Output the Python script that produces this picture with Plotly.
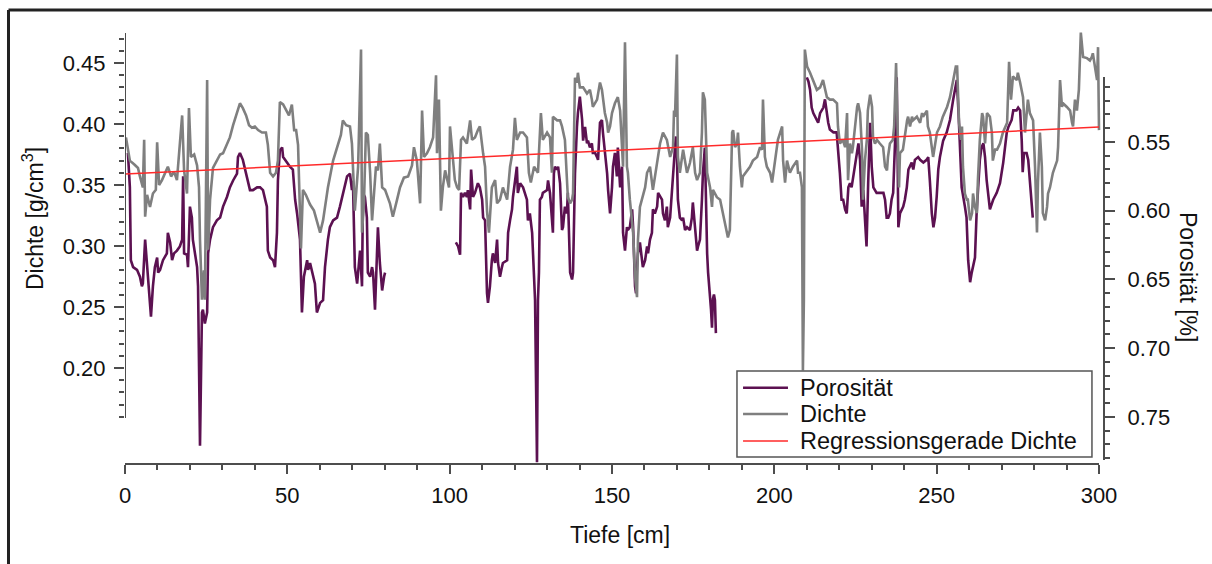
import plotly.graph_objects as go

# ---------------- data ----------------
# Dichte (density, g/cm^3) vs Tiefe (depth, cm)
DICHTE_X = [0.3, 0.9, 1.5, 2.8, 4.0, 4.6, 5.5, 5.9, 6.2, 6.8, 7.7, 8.6, 9.5, 9.9, 10.5, 11.4, 12.3, 13.2, 14.2, 15.1,
            16.0, 17.6, 18.2, 19.1, 19.7, 20.3, 21.3, 22.2, 22.8, 23.1, 23.7, 24.3, 24.6, 25.3, 25.6, 26.2, 27.1, 28.3, 29.3, 30.2,
            31.4, 32.3, 33.3, 34.2, 35.4, 36.3, 37.3, 38.2, 39.1, 40.0, 41.0, 42.2, 43.4, 44.0, 44.7, 45.6, 46.5, 47.1, 47.7, 48.7,
            49.6, 50.5, 51.4, 52.1, 52.7, 53.3, 54.2, 54.8, 55.7, 57.0, 58.2, 59.1, 60.1, 61.0, 62.5, 64.1, 65.3, 66.5, 67.1, 68.1,
            69.3, 69.9, 70.8, 71.8, 72.7, 73.0, 73.6, 74.2, 74.8, 75.5, 76.1, 76.7, 77.3, 77.9, 78.5, 79.2, 80.1, 81.6, 82.5, 83.8,
            84.7, 85.9, 87.2, 88.4, 89.0, 89.9, 90.9, 91.5, 92.1, 93.0, 93.9, 94.9, 95.8, 96.1, 96.7, 97.3, 97.9, 98.6, 99.2, 99.8,
            100.1, 101.0, 101.6, 102.3, 102.9, 103.5, 104.1, 105.3, 106.3, 106.9, 107.8, 108.7, 109.3, 110.3, 110.9, 111.5, 112.1, 113.0, 114.0, 114.6,
            115.5, 116.4, 117.7, 118.6, 119.5, 120.1, 120.7, 121.7, 122.6, 123.8, 124.4, 125.0, 126.0, 127.2, 128.1, 128.7, 130.0, 130.9, 131.5, 131.8,
            133.1, 134.0, 134.6, 135.5, 136.1, 136.4, 137.1, 137.7, 138.0, 138.6, 139.2, 139.5, 140.1, 141.1, 142.3, 143.2, 143.8, 144.1, 145.4, 146.3,
            146.9, 147.2, 147.8, 148.5, 148.8, 149.4, 150.0, 150.9, 151.8, 152.5, 153.1, 153.4, 154.0, 154.6, 154.9, 155.5, 156.5, 157.1, 157.7, 158.0,
            158.6, 159.2, 160.2, 160.8, 161.7, 162.6, 163.9, 164.8, 165.7, 166.9, 167.9, 168.8, 169.1, 169.4, 170.0, 170.3, 170.9, 171.9, 173.1, 174.0,
            174.9, 175.6, 176.2, 177.1, 177.7, 178.0, 178.6, 179.3, 180.2, 180.8, 181.1, 182.3, 183.3, 184.2, 185.4, 185.7, 186.3, 187.0, 187.3, 187.9,
            188.5, 188.8, 189.4, 190.0, 190.3, 191.6, 192.5, 193.4, 194.7, 195.6, 196.2, 196.5, 197.1, 197.7, 198.7, 199.3, 200.8, 201.1, 202.4, 202.7,
            203.3, 203.9, 204.8, 205.7, 207.0, 207.3, 207.9, 208.5, 208.8, 209.1, 209.4, 210.1, 211.0, 211.9, 213.1, 214.1, 215.0, 216.2, 217.1, 218.1,
            219.3, 219.6, 220.2, 221.1, 221.8, 222.4, 222.7, 223.3, 223.9, 224.2, 224.8, 225.5, 225.8, 226.4, 227.0, 227.3, 227.9, 228.5, 228.8, 229.5,
            230.1, 230.4, 231.0, 231.6, 232.5, 233.5, 234.1, 234.7, 235.0, 235.6, 236.5, 236.9, 237.5, 237.8, 238.4, 238.7, 239.6, 240.9, 241.2, 241.8,
            242.4, 242.7, 243.9, 244.9, 245.5, 245.8, 246.4, 247.0, 247.3, 247.9, 248.6, 248.9, 250.1, 251.0, 251.9, 253.2, 254.1, 255.0, 255.9, 256.3,
            256.6, 256.9, 257.5, 257.8, 258.1, 258.7, 259.3, 259.6, 260.3, 260.9, 261.2, 261.8, 262.4, 262.7, 263.3, 264.0, 264.3, 264.9, 265.5, 266.4,
            267.0, 267.3, 268.0, 268.6, 269.5, 270.4, 271.7, 272.0, 272.3, 272.9, 273.5, 274.7, 275.0, 275.7, 276.3, 276.6, 277.2, 277.8, 278.1, 278.7,
            279.7, 280.3, 280.9, 281.2, 281.8, 282.4, 282.7, 283.4, 284.0, 284.3, 284.9, 285.8, 287.1, 287.4, 288.0, 288.6, 288.9, 290.1, 291.1, 291.7,
            292.0, 292.6, 293.2, 293.8, 294.4, 295.1, 296.3, 297.2, 297.8, 298.1, 298.8, 299.4, 299.7, 300.0]
DICHTE_Y = [0.389, 0.379, 0.370, 0.367, 0.364, 0.357, 0.348, 0.387, 0.324, 0.342, 0.332, 0.343, 0.346, 0.385, 0.350, 0.354, 0.360, 0.365, 0.357, 0.361,
            0.354, 0.407, 0.362, 0.343, 0.413, 0.373, 0.375, 0.366, 0.348, 0.305, 0.256, 0.280, 0.256, 0.436, 0.297, 0.338, 0.364, 0.370, 0.375, 0.376,
            0.383, 0.389, 0.399, 0.407, 0.417, 0.413, 0.407, 0.399, 0.397, 0.398, 0.395, 0.393, 0.393, 0.383, 0.360, 0.357, 0.360, 0.370, 0.418, 0.416,
            0.411, 0.407, 0.416, 0.395, 0.395, 0.383, 0.298, 0.346, 0.342, 0.334, 0.329, 0.321, 0.311, 0.321, 0.348, 0.370, 0.381, 0.391, 0.403, 0.399,
            0.398, 0.384, 0.329, 0.365, 0.461, 0.311, 0.335, 0.393, 0.391, 0.360, 0.321, 0.343, 0.365, 0.362, 0.384, 0.348, 0.346, 0.335, 0.324, 0.338,
            0.348, 0.356, 0.357, 0.366, 0.381, 0.370, 0.335, 0.411, 0.373, 0.376, 0.381, 0.389, 0.440, 0.376, 0.420, 0.329, 0.348, 0.362, 0.354, 0.348,
            0.398, 0.370, 0.354, 0.348, 0.346, 0.387, 0.389, 0.384, 0.403, 0.387, 0.389, 0.395, 0.398, 0.376, 0.365, 0.329, 0.311, 0.348, 0.354, 0.335,
            0.338, 0.348, 0.338, 0.365, 0.379, 0.405, 0.387, 0.393, 0.393, 0.389, 0.360, 0.352, 0.365, 0.360, 0.409, 0.387, 0.393, 0.389, 0.360, 0.406,
            0.403, 0.403, 0.398, 0.387, 0.360, 0.340, 0.335, 0.338, 0.343, 0.438, 0.434, 0.442, 0.430, 0.430, 0.425, 0.428, 0.420, 0.414, 0.420, 0.434,
            0.428, 0.422, 0.409, 0.401, 0.393, 0.398, 0.409, 0.417, 0.422, 0.411, 0.381, 0.365, 0.467, 0.365, 0.360, 0.338, 0.311, 0.275, 0.258, 0.305,
            0.332, 0.338, 0.348, 0.360, 0.365, 0.346, 0.368, 0.384, 0.393, 0.387, 0.373, 0.381, 0.411, 0.406, 0.457, 0.373, 0.360, 0.379, 0.360, 0.368,
            0.381, 0.360, 0.354, 0.360, 0.393, 0.426, 0.420, 0.360, 0.348, 0.332, 0.346, 0.340, 0.338, 0.327, 0.313, 0.307, 0.313, 0.393, 0.395, 0.381,
            0.384, 0.393, 0.365, 0.348, 0.357, 0.362, 0.365, 0.370, 0.373, 0.381, 0.379, 0.420, 0.373, 0.365, 0.360, 0.352, 0.381, 0.387, 0.398, 0.370,
            0.352, 0.370, 0.360, 0.365, 0.370, 0.360, 0.360, 0.348, 0.198, 0.256, 0.461, 0.447, 0.442, 0.436, 0.428, 0.430, 0.436, 0.422, 0.420, 0.420,
            0.417, 0.398, 0.384, 0.387, 0.381, 0.409, 0.354, 0.384, 0.376, 0.381, 0.398, 0.414, 0.417, 0.409, 0.379, 0.338, 0.370, 0.387, 0.411, 0.424,
            0.414, 0.389, 0.384, 0.387, 0.384, 0.381, 0.365, 0.362, 0.373, 0.384, 0.387, 0.398, 0.450, 0.409, 0.348, 0.376, 0.379, 0.403, 0.406, 0.398,
            0.406, 0.403, 0.406, 0.401, 0.409, 0.406, 0.409, 0.411, 0.398, 0.393, 0.379, 0.373, 0.393, 0.398, 0.406, 0.414, 0.422, 0.434, 0.447, 0.447,
            0.428, 0.401, 0.387, 0.398, 0.365, 0.343, 0.338, 0.338, 0.321, 0.327, 0.343, 0.332, 0.327, 0.354, 0.387, 0.409, 0.406, 0.384, 0.409, 0.406,
            0.393, 0.370, 0.379, 0.379, 0.384, 0.393, 0.401, 0.420, 0.451, 0.420, 0.439, 0.436, 0.442, 0.434, 0.425, 0.422, 0.393, 0.414, 0.420, 0.409,
            0.403, 0.365, 0.311, 0.352, 0.393, 0.365, 0.327, 0.321, 0.332, 0.343, 0.348, 0.360, 0.370, 0.381, 0.436, 0.414, 0.417, 0.414, 0.411, 0.401,
            0.398, 0.420, 0.411, 0.428, 0.475, 0.455, 0.454, 0.452, 0.455, 0.458, 0.447, 0.436, 0.463, 0.395]

# Porosität (porosity) vs Tiefe; None marks gaps in the record
POROSITAET_X = [0.9, 1.5, 1.8, 2.5, 3.7, 4.6, 5.2, 5.5, 6.2, 6.8, 7.4, 8.0, 8.6, 9.2, 9.9, 10.2, 10.8, 11.7, 12.9, 13.2,
                13.9, 14.5, 15.1, 16.0, 16.9, 17.6, 17.9, 18.2, 19.1, 19.4, 20.0, 20.6, 20.9, 21.6, 22.2, 22.5, 23.1, 23.7, 24.0, 24.6,
                25.3, 25.6, 26.2, 27.1, 28.3, 29.3, 30.2, 31.4, 32.3, 33.3, 34.5, 34.8, 35.4, 36.3, 37.6, 38.5, 39.4, 40.7, 41.6, 42.5,
                43.7, 44.0, 44.7, 45.6, 46.2, 46.8, 47.1, 47.7, 48.4, 48.7, 49.9, 50.8, 51.7, 52.4, 53.0, 53.9, 54.5, 55.1, 56.1, 56.4,
                57.0, 57.9, 58.5, 59.1, 60.1, 61.0, 61.6, 62.5, 63.1, 64.1, 65.3, 66.2, 67.1, 68.4, 69.3, 69.9, 70.2, 70.8, 71.5, 71.8,
                72.4, 73.0, 73.3, 73.9, 74.5, 74.8, 75.5, 76.1, 76.4, 77.0, 77.6, 77.9, 78.5, 79.2, 79.8, 80.1,
                None,
                101.9, 102.6, 103.2, 103.5, 104.1, 104.7, 105.3, 105.6, 106.3, 106.6, 107.2, 107.8, 108.7, 109.3, 110.0, 110.3, 110.9, 111.2, 111.5, 111.8,
                112.4, 113.0, 113.3, 114.0, 114.6, 114.9, 115.5, 116.1, 116.4, 117.7, 118.0, 118.6, 119.2, 119.5, 120.1, 120.7, 121.0, 121.7, 122.6, 123.8,
                124.1, 124.7, 125.4, 125.7, 126.3, 126.9, 127.2, 127.5, 127.8, 128.4, 128.7, 130.0, 130.3, 130.9, 131.5, 131.8, 132.1, 132.4, 133.1, 133.4,
                134.0, 134.6, 134.9, 135.5, 136.1, 136.4, 137.1, 137.7, 138.0, 138.6, 139.2, 139.5, 140.1, 140.8, 141.1, 141.7, 142.3, 142.6, 143.2, 143.8,
                144.1, 144.8, 145.4, 145.7, 146.3, 146.9, 147.2, 147.8, 148.5, 148.8, 149.4, 150.0, 150.3, 150.9, 151.5, 151.8, 152.5, 153.1, 153.4, 154.0,
                154.6, 154.9, 155.5, 156.2, 156.5, 157.1, 157.4, 157.7, 158.0, 158.6, 159.2, 159.5, 160.2, 160.8, 161.1, 161.7, 162.3, 162.6, 163.2, 163.9,
                164.2, 164.8, 165.4, 165.7, 166.3, 166.9, 167.2, 167.9, 168.5, 168.8, 169.4, 169.7, 170.0, 170.3, 170.9, 171.6, 171.9, 172.5, 173.1, 174.0,
                174.6, 174.9, 175.6, 176.2, 176.5, 177.1, 177.7, 178.0, 178.6, 178.9, 179.3, 179.6, 180.2, 180.5, 180.8, 181.1, 181.4, 181.7, 182.0,
                None,
                210.0, 210.5, 211.0, 211.5, 212.0, 213.0, 213.5, 214.1, 214.6, 215.1, 215.6, 216.1, 216.6, 217.1, 218.2, 219.2, 219.7, 220.2, 220.7, 221.2,
                221.8, 222.3, 222.8, 223.3, 223.8, 224.3, 224.8, 225.4, 225.9, 226.4, 226.9, 227.4, 227.9, 228.4, 228.9, 229.5, 230.0, 230.5, 231.5, 232.5,
                233.6, 234.1, 234.6, 235.1, 235.6, 236.1, 236.6, 237.2, 237.7, 238.2, 238.7, 239.7, 240.2, 240.8, 241.3, 242.3, 242.8, 243.3, 244.3, 244.9,
                245.9, 246.9, 247.4, 247.9, 248.5, 249.0, 249.5, 250.0, 250.5, 251.0, 252.0, 253.1, 254.1, 255.1, 256.2, 256.7, 257.2, 257.7, 258.7, 259.2,
                259.7, 260.3, 260.8, 261.3, 261.8, 262.3, 262.8, 263.3, 263.8, 264.4, 264.9, 265.4, 266.4, 267.4, 268.5, 269.5, 270.5, 271.6, 272.1, 273.1,
                273.6, 274.6, 275.1, 275.7, 276.2, 276.5, 276.9, 277.7, 278.2, 278.7, 279.3, 279.6]
POROSITAET_Y = [0.558, 0.583, 0.636, 0.641, 0.643, 0.648, 0.655, 0.653, 0.621, 0.641, 0.660, 0.677, 0.655, 0.641, 0.634, 0.645, 0.643, 0.636, 0.631, 0.616,
                0.623, 0.636, 0.631, 0.629, 0.626, 0.621, 0.575, 0.631, 0.632, 0.641, 0.597, 0.605, 0.621, 0.634, 0.641, 0.655, 0.771, 0.674, 0.672, 0.682,
                0.674, 0.631, 0.621, 0.612, 0.607, 0.605, 0.597, 0.590, 0.583, 0.578, 0.573, 0.561, 0.558, 0.563, 0.575, 0.585, 0.585, 0.583, 0.583, 0.585,
                0.597, 0.629, 0.634, 0.636, 0.641, 0.616, 0.578, 0.556, 0.554, 0.561, 0.565, 0.568, 0.570, 0.592, 0.602, 0.621, 0.674, 0.648, 0.636, 0.643,
                0.638, 0.648, 0.653, 0.674, 0.667, 0.665, 0.641, 0.621, 0.612, 0.607, 0.605, 0.597, 0.587, 0.575, 0.573, 0.585, 0.578, 0.641, 0.653, 0.643,
                0.629, 0.655, 0.587, 0.590, 0.605, 0.645, 0.648, 0.641, 0.645, 0.672, 0.638, 0.612, 0.638, 0.658, 0.648, 0.645,
                None,
                0.623, 0.626, 0.632, 0.587, 0.590, 0.587, 0.590, 0.585, 0.599, 0.570, 0.590, 0.587, 0.580, 0.583, 0.592, 0.605, 0.607, 0.641, 0.660, 0.667,
                0.655, 0.636, 0.631, 0.638, 0.621, 0.638, 0.648, 0.641, 0.638, 0.636, 0.616, 0.607, 0.599, 0.590, 0.580, 0.568, 0.587, 0.580, 0.583, 0.592,
                0.607, 0.602, 0.616, 0.636, 0.665, 0.783, 0.665, 0.645, 0.592, 0.590, 0.587, 0.585, 0.578, 0.587, 0.612, 0.616, 0.573, 0.568, 0.570, 0.568,
                0.580, 0.614, 0.612, 0.597, 0.602, 0.587, 0.645, 0.650, 0.645, 0.573, 0.539, 0.529, 0.517, 0.534, 0.549, 0.539, 0.551, 0.549, 0.554, 0.551,
                0.558, 0.558, 0.561, 0.563, 0.536, 0.534, 0.543, 0.556, 0.573, 0.585, 0.602, 0.583, 0.568, 0.558, 0.575, 0.554, 0.583, 0.568, 0.616, 0.629,
                0.612, 0.614, 0.612, 0.599, 0.612, 0.655, 0.660, 0.641, 0.631, 0.623, 0.636, 0.641, 0.636, 0.626, 0.631, 0.621, 0.616, 0.599, 0.602, 0.597,
                0.587, 0.590, 0.592, 0.602, 0.607, 0.597, 0.612, 0.605, 0.583, 0.568, 0.554, 0.546, 0.561, 0.592, 0.605, 0.607, 0.605, 0.614, 0.612, 0.614,
                0.605, 0.594, 0.616, 0.629, 0.626, 0.621, 0.592, 0.573, 0.554, 0.592, 0.631, 0.645, 0.660, 0.672, 0.685, 0.664, 0.661, 0.665, 0.689,
                None,
                0.503, 0.506, 0.512, 0.525, 0.529, 0.534, 0.536, 0.529, 0.527, 0.525, 0.519, 0.529, 0.536, 0.541, 0.543, 0.543, 0.556, 0.573, 0.592, 0.592,
                0.599, 0.602, 0.583, 0.580, 0.583, 0.575, 0.568, 0.558, 0.551, 0.563, 0.597, 0.585, 0.605, 0.626, 0.580, 0.536, 0.568, 0.583, 0.587, 0.587,
                0.587, 0.592, 0.605, 0.605, 0.602, 0.592, 0.587, 0.549, 0.503, 0.612, 0.602, 0.597, 0.592, 0.583, 0.570, 0.565, 0.570, 0.563, 0.561, 0.563,
                0.565, 0.563, 0.561, 0.578, 0.602, 0.612, 0.605, 0.590, 0.570, 0.561, 0.549, 0.543, 0.534, 0.519, 0.505, 0.527, 0.554, 0.583, 0.597, 0.605,
                0.636, 0.652, 0.645, 0.638, 0.634, 0.602, 0.583, 0.563, 0.554, 0.551, 0.561, 0.578, 0.599, 0.592, 0.587, 0.580, 0.565, 0.543, 0.539, 0.534,
                0.527, 0.527, 0.525, 0.527, 0.549, 0.572, 0.558, 0.558, 0.563, 0.580, 0.597, 0.605]

# Linear regression of Dichte (end points)
REGRESSION_X = [0, 300]
REGRESSION_Y = [0.359, 0.3975]

# Axes
X_TICKS = [0, 50, 100, 150, 200, 250, 300]
DICHTE_TICKS = [0.20, 0.25, 0.30, 0.35, 0.40, 0.45]
DICHTE_MINOR = [0.16, 0.17, 0.18, 0.19, 0.21, 0.22, 0.23, 0.24, 0.26, 0.27, 0.28, 0.29,
                0.31, 0.32, 0.33, 0.34, 0.36, 0.37, 0.38, 0.39, 0.41, 0.42, 0.43, 0.44, 0.46, 0.47]
PORO_TICKS = [0.55, 0.60, 0.65, 0.70, 0.75]
PORO_MINOR = [0.51, 0.52, 0.53, 0.54, 0.56, 0.57, 0.58, 0.59, 0.61, 0.62, 0.63, 0.64,
              0.66, 0.67, 0.68, 0.69, 0.71, 0.72, 0.73, 0.74, 0.76, 0.77, 0.78]
X_RANGE = [0, 301.54]
DICHTE_RANGE = [0.1213, 0.4787]
PORO_RANGE = [0.7842, 0.4671]          # reversed
DICHTE_LINE_SPAN = [0.159, 0.4746]     # extent of the drawn left axis line
PORO_LINE_SPAN = [0.5027, 0.7812]      # extent of the drawn right axis line

# Legend entries (name, colour, line width)
LEGEND_NAMES = ["Porosität", "Dichte", "Regressionsgerade Dichte"]
LEGEND_COLORS = ["#5c1151", "#7f7f7f", "#ff2a2a"]
LEGEND_WIDTHS = [2.6, 2.6, 1.6]

FONT = "Liberation Sans, Arial, sans-serif"
AXIS_COLOR = "#4d4d4d"

fig = go.Figure()
fig.add_trace(go.Scatter(x=POROSITAET_X, y=POROSITAET_Y, name=LEGEND_NAMES[0], mode="lines",
                         line=dict(color=LEGEND_COLORS[0], width=LEGEND_WIDTHS[0]), yaxis="y", connectgaps=False))
fig.add_trace(go.Scatter(x=DICHTE_X, y=DICHTE_Y, name=LEGEND_NAMES[1], mode="lines",
                         line=dict(color=LEGEND_COLORS[1], width=LEGEND_WIDTHS[1]), yaxis="y2"))
fig.add_trace(go.Scatter(x=REGRESSION_X, y=REGRESSION_Y, name=LEGEND_NAMES[2], mode="lines",
                         line=dict(color=LEGEND_COLORS[2], width=LEGEND_WIDTHS[2]), yaxis="y2"))

tickfont = dict(family=FONT, size=22, color="#111")

fig.update_layout(
    width=1212, height=564,
    margin=dict(l=125, r=108, t=28, b=100),
    paper_bgcolor="white", plot_bgcolor="white",
    font=dict(family=FONT, color="#111"),
    showlegend=False,
    xaxis=dict(range=X_RANGE, tickvals=X_TICKS, ticks="outside", ticklen=9, tickwidth=1.5,
               tickcolor=AXIS_COLOR, showline=False, showgrid=False, zeroline=False,
               tickfont=tickfont, anchor="y", ticklabelstandoff=3,
               minor=dict(tickmode="linear", tick0=0, dtick=10, ticks="outside", ticklen=5,
                          tickwidth=1.5, tickcolor=AXIS_COLOR, showgrid=False)),
    yaxis=dict(range=PORO_RANGE, side="right", anchor="x", tickvals=PORO_TICKS,
               ticktext=[f"{v:.2f}" for v in PORO_TICKS], ticks="outside", ticklen=10, tickwidth=1.5,
               tickcolor=AXIS_COLOR, showline=False, showgrid=False, zeroline=False,
               tickfont=tickfont, ticklabelstandoff=8,
               minor=dict(tickmode="array", tickvals=PORO_MINOR, ticks="outside", ticklen=5,
                          tickwidth=1.5, tickcolor=AXIS_COLOR, showgrid=False)),
    yaxis2=dict(range=DICHTE_RANGE, side="left", overlaying="y", anchor="x", tickvals=DICHTE_TICKS,
                ticktext=[f"{v:.2f}" for v in DICHTE_TICKS], ticks="outside", ticklen=10, tickwidth=1.5,
                tickcolor=AXIS_COLOR, showline=False, showgrid=False, zeroline=False,
                tickfont=tickfont, ticklabelstandoff=4,
                minor=dict(tickmode="array", tickvals=DICHTE_MINOR, ticks="outside", ticklen=5,
                           tickwidth=1.5, tickcolor=AXIS_COLOR, showgrid=False)),
)

# axis lines (limited extent, as in the original)
fig.add_shape(type="line", xref="x", yref="paper", x0=X_TICKS[0], x1=X_TICKS[-1], y0=0, y1=0,
              line=dict(color=AXIS_COLOR, width=2))
fig.add_shape(type="line", xref="x", yref="y2", x0=0, x1=0, y0=DICHTE_LINE_SPAN[0], y1=DICHTE_LINE_SPAN[1],
              line=dict(color=AXIS_COLOR, width=2))
fig.add_shape(type="line", xref="paper", yref="y", x0=1, x1=1, y0=PORO_LINE_SPAN[0], y1=PORO_LINE_SPAN[1],
              line=dict(color=AXIS_COLOR, width=2))

# outer frame (top and left edges visible in the original crop)
fig.add_shape(type="line", xref="paper", yref="paper", x0=-0.119, x1=1.12, y0=1.041, y1=1.041,
              line=dict(color="#222", width=3))
fig.add_shape(type="line", xref="paper", yref="paper", x0=-0.119, x1=-0.119, y0=1.041, y1=-0.25,
              line=dict(color="#222", width=3))

# legend box (drawn as shapes + text so its size matches the original)
LEG_X0, LEG_X1, LEG_Y0, LEG_Y1 = 0.6251, 0.9877, 0.0161, 0.2133
LEG_ROW_Y = [0.175, 0.1147, 0.0528]
fig.add_shape(type="rect", xref="paper", yref="paper", x0=LEG_X0, x1=LEG_X1, y0=LEG_Y0, y1=LEG_Y1,
              fillcolor="white", line=dict(color="#555", width=1.5), layer="above")
for name, color, width, ry in zip(LEGEND_NAMES, LEGEND_COLORS, LEGEND_WIDTHS, LEG_ROW_Y):
    fig.add_shape(type="line", xref="paper", yref="paper", x0=0.6313, x1=0.6772, y0=ry, y1=ry,
                  line=dict(color=color, width=width), layer="above")
    fig.add_annotation(text=name, xref="paper", yref="paper", x=0.6874, y=ry, xanchor="left",
                       yanchor="middle", showarrow=False, font=dict(family=FONT, size=23.5, color="#111"))

# axis titles
fig.add_annotation(text="Dichte [g/cm<sup>3</sup>]", xref="paper", yref="paper", x=-0.094, y=0.564,
                   textangle=-90, showarrow=False, xanchor="center", yanchor="middle",
                   font=dict(family=FONT, size=23, color="#111"))
fig.add_annotation(text="Porosität [%]", xref="paper", yref="paper", x=1.0858, y=0.4289,
                   textangle=90, showarrow=False, xanchor="center", yanchor="middle",
                   font=dict(family=FONT, size=23, color="#111"))
fig.add_annotation(text="Tiefe [cm]", xref="paper", yref="paper", x=0.5056, y=-0.163,
                   showarrow=False, xanchor="center", yanchor="middle",
                   font=dict(family=FONT, size=23, color="#111"))

fig.write_html("out.html")
